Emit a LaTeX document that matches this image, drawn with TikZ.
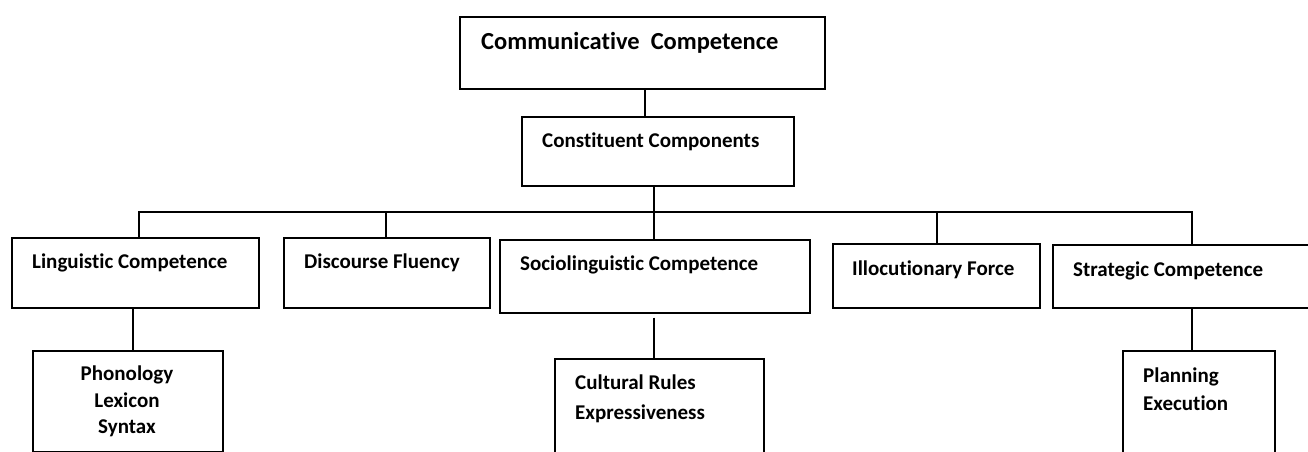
\documentclass[tikz,border=0pt]{standalone}
\usepackage{fontspec}
\setmainfont{Carlito}[Ligatures=NoCommon]
\begin{document}
\begin{tikzpicture}[x=1pt, y=-1pt,
  box/.style={draw, line width=1.7pt, rectangle, inner sep=0pt, anchor=north west},
  lbl/.style={inner sep=0pt, font=\bfseries\fontsize{21}{26}\selectfont, anchor=base west},
  ttl/.style={lbl, font=\bfseries\fontsize{24.5}{30}\selectfont},
  ctr/.style={lbl, anchor=base},
  link/.style={line width=1.7pt}]
\clip (0,0) rectangle (1308,452);
\fill[white] (0,0) rectangle (1308,452);

% boxes
\node[box, minimum width=365pt, minimum height=72pt]  (cc)   at (459,16)  {};
\node[box, minimum width=272pt, minimum height=69pt]  (comp) at (521,116) {};
\node[box, minimum width=247pt, minimum height=70pt]  (lc)   at (11,237)  {};
\node[box, minimum width=206pt, minimum height=70pt]  (df)   at (283,237) {};
\node[box, minimum width=310pt, minimum height=73pt]  (sc)   at (499,239) {};
\node[box, minimum width=207pt, minimum height=64pt]  (il)   at (832,243) {};
\node[box, minimum width=300pt, minimum height=63pt]  (st)   at (1052,244) {};
\node[box, minimum width=190pt, minimum height=101pt] (ph)   at (32,350)  {};
\node[box, minimum width=209pt, minimum height=130pt] (cr)   at (554,358) {};
\node[box, minimum width=152pt, minimum height=130pt] (pe)   at (1122,350) {};

% drop points
\coordinate (j0) at (645,0);
\coordinate (tr) at (654,212);
\coordinate (b1) at (139,212);
\coordinate (b2) at (386,212);
\coordinate (b4) at (937,212);
\coordinate (b5) at (1192,212);
\coordinate (c1) at (133,0);

% connectors
\draw[link] (cc.south -| j0) -- (comp.north -| j0);
\draw[link] (comp.south -| tr) -- (sc.north -| tr);
\draw[link] (b1 |- lc.north) -- (b1) -- (b5) -- (b5 |- st.north);
\draw[link] (b2) -- (b2 |- df.north);
\draw[link] (b4) -- (b4 |- il.north);
\draw[link] (lc.south -| c1) -- (ph.north -| c1);
\draw[link, shorten <=4pt] (sc.south -| tr) -- (cr.north -| tr);
\draw[link] (st.south -| b5) -- (pe.north -| b5);

% labels
\node[ttl] (tcc)   at (481,50)  {Communicative~ Competence};
\node[lbl] (tcomp) at (542,147) {Constituent Components};
\node[lbl] (tlc)   at (32,268)  {Linguistic Competence};
\node[lbl] (tdf)   at (304,268) {Discourse Fluency};
\node[lbl] (tsc)   at (520,270) {Sociolinguistic Competence};
\node[lbl] (til)   at (852,275) {Illocutionary Force};
\node[lbl] (tst)   at (1073,276) {Strategic Competence};
\node[ctr] (tph1)  at (127,380) {Phonology};
\node[ctr] (tph2)  at (127,407) {Lexicon};
\node[ctr] (tph3)  at (127,433) {Syntax};
\node[lbl] (tcr1)  at (575,389) {Cultural Rules};
\node[lbl] (tcr2)  at (575,419) {Expressiveness};
\node[lbl] (tpe1)  at (1143,382) {Planning};
\node[lbl] (tpe2)  at (1143,410) {Execution};
\end{tikzpicture}
\end{document}
